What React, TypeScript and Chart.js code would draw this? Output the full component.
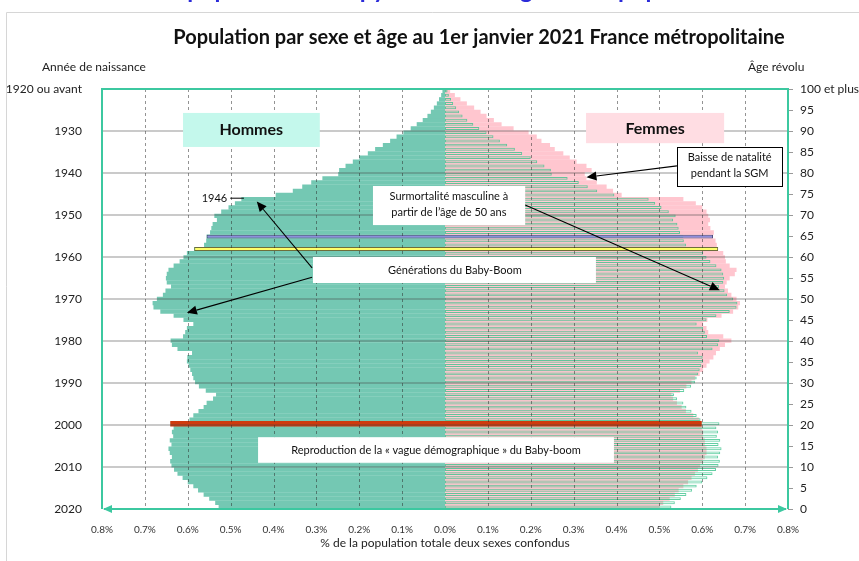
import React, { useEffect, useRef } from 'react';
import { Chart, registerables } from 'chart.js';

Chart.register(...registerables);

const FONT = "Lato, 'Open Sans', sans-serif";

// Part de la population (%) par âge révolu 0..100 (100 = 100 et plus)
const men = [
  0.528, 0.536, 0.550, 0.563, 0.576, 0.587, 0.600, 0.612, 0.624, 0.632,
  0.638, 0.641, 0.637, 0.642, 0.645, 0.638, 0.642, 0.634, 0.637, 0.633,
  0.640, 0.596, 0.587, 0.575, 0.563, 0.556, 0.541, 0.534, 0.558, 0.574,
  0.583, 0.587, 0.590, 0.594, 0.598, 0.602, 0.601, 0.590, 0.624, 0.637,
  0.640, 0.611, 0.606, 0.602, 0.587, 0.610, 0.633, 0.664, 0.680, 0.682,
  0.672, 0.658, 0.652, 0.639, 0.649, 0.651, 0.649, 0.645, 0.633, 0.619,
  0.610, 0.602, 0.585, 0.562, 0.557, 0.556, 0.548, 0.545, 0.542, 0.532,
  0.538, 0.522, 0.505, 0.490, 0.475, 0.395, 0.355, 0.333, 0.312, 0.286,
  0.249, 0.247, 0.232, 0.215, 0.200, 0.180, 0.163, 0.145, 0.128, 0.113,
  0.097, 0.080, 0.066, 0.052, 0.041, 0.033, 0.026, 0.019, 0.014, 0.009,
  0.006,
];

const women = [
  0.501, 0.509, 0.524, 0.536, 0.545, 0.556, 0.567, 0.575, 0.583, 0.590,
  0.595, 0.602, 0.606, 0.610, 0.610, 0.606, 0.606, 0.602, 0.602, 0.599,
  0.598, 0.592, 0.579, 0.562, 0.552, 0.541, 0.532, 0.528, 0.548, 0.563,
  0.575, 0.583, 0.594, 0.602, 0.610, 0.617, 0.626, 0.632, 0.641, 0.653,
  0.668, 0.649, 0.614, 0.610, 0.602, 0.612, 0.645, 0.672, 0.684, 0.688,
  0.680, 0.668, 0.660, 0.653, 0.657, 0.664, 0.676, 0.680, 0.664, 0.655,
  0.653, 0.649, 0.637, 0.634, 0.631, 0.625, 0.627, 0.619, 0.614, 0.618,
  0.614, 0.610, 0.600, 0.585, 0.556, 0.412, 0.392, 0.377, 0.354, 0.330,
  0.326, 0.342, 0.330, 0.307, 0.291, 0.276, 0.256, 0.245, 0.225, 0.214,
  0.195, 0.160, 0.132, 0.114, 0.097, 0.083, 0.068, 0.051, 0.036, 0.023,
  0.012,
];

const ages = men.map((_, i) => i);
const LAST_BIRTH_YEAR = 2020;
const BLUE_AGE = 65;
const YELLOW_AGE = 62;
const RED_AGE = 20;

const TITLE = 'Population par sexe et âge au 1er janvier 2021 France métropolitaine';
const X_TITLE = '% de la population totale deux sexes confondus';
const TEAL = '#3CC8A0';

function arrow(ctx: CanvasRenderingContext2D, x1: number, y1: number, x2: number, y2: number) {
  const ang = Math.atan2(y2 - y1, x2 - x1);
  const L = 10, W = 4.5;
  const bx = x2 - L * Math.cos(ang), by = y2 - L * Math.sin(ang);
  ctx.beginPath();
  ctx.moveTo(x1, y1);
  ctx.lineTo(bx, by);
  ctx.strokeStyle = '#000';
  ctx.lineWidth = 1.1;
  ctx.stroke();
  ctx.beginPath();
  ctx.moveTo(x2, y2);
  ctx.lineTo(bx + W * Math.sin(ang), by - W * Math.cos(ang));
  ctx.lineTo(bx - W * Math.sin(ang), by + W * Math.cos(ang));
  ctx.closePath();
  ctx.fillStyle = '#000';
  ctx.fill();
}

const annotPlugin = {
  id: 'annot',
  afterDatasetsDraw(chart: any) {
    const { ctx, chartArea: a, scales } = chart;
    const px = (v: number) => scales.x.getPixelForValue(v);
    const py = (age: number) => scales.yAge.getPixelForValue(age);
    ctx.save();

    // grid lines, drawn over the bars so that they show through them
    ctx.save();
    ctx.beginPath();
    ctx.rect(a.left, a.top, a.right - a.left, a.bottom - a.top);
    ctx.clip();
    ctx.setLineDash([3, 3]);
    ctx.strokeStyle = 'rgba(40,40,40,0.5)';
    ctx.lineWidth = 1;
    ctx.beginPath();
    for (const t of scales.x.ticks) {
      const v = Math.abs(t.value);
      if (v < 1e-6 || Math.abs(v - 0.8) < 1e-6) continue;
      const x = Math.round(px(t.value)) + 0.5;
      ctx.moveTo(x, a.top);
      ctx.lineTo(x, a.bottom);
    }
    ctx.stroke();
    ctx.setLineDash([]);
    ctx.strokeStyle = 'rgba(70,70,70,0.38)';
    ctx.lineWidth = 1.6;
    ctx.beginPath();
    for (const t of scales.yYear.ticks) {
      if (t.value <= 0 || t.value >= 100) continue;
      const y = scales.yYear.getPixelForValue(t.value);
      ctx.moveTo(a.left, y);
      ctx.lineTo(a.right, y);
    }
    ctx.stroke();
    ctx.restore();

    // plot frame
    ctx.strokeStyle = TEAL;
    ctx.lineWidth = 2;
    ctx.beginPath();
    ctx.moveTo(a.left, a.bottom);
    ctx.lineTo(a.left, a.top);
    ctx.lineTo(a.right, a.top);
    ctx.lineTo(a.right, a.bottom);
    ctx.stroke();
    // bottom axis with arrows
    ctx.beginPath();
    ctx.moveTo(a.left + 2, a.bottom);
    ctx.lineTo(a.right - 2, a.bottom);
    ctx.stroke();
    ctx.fillStyle = TEAL;
    ctx.beginPath();
    ctx.moveTo(a.left + 1, a.bottom);
    ctx.lineTo(a.left + 10, a.bottom - 4);
    ctx.lineTo(a.left + 10, a.bottom + 4);
    ctx.closePath();
    ctx.fill();
    ctx.beginPath();
    ctx.moveTo(a.right - 1, a.bottom);
    ctx.lineTo(a.right - 10, a.bottom - 4);
    ctx.lineTo(a.right - 10, a.bottom + 4);
    ctx.closePath();
    ctx.fill();

    const box = (v1: number, v2: number, a1: number, a2: number, fill: string, stroke?: string) => {
      const x1 = px(v1), x2 = px(v2), y1 = py(a1), y2 = py(a2);
      ctx.fillStyle = fill;
      ctx.fillRect(x1, y1, x2 - x1, y2 - y1);
      if (stroke) {
        ctx.strokeStyle = stroke;
        ctx.lineWidth = 1;
        ctx.strokeRect(Math.round(x1) + 0.5, Math.round(y1) + 0.5, Math.round(x2 - x1), Math.round(y2 - y1));
      }
    };
    const text = (t: string, v: number, age: number, font: string, align: CanvasTextAlign = 'center') => {
      ctx.font = font;
      ctx.fillStyle = '#111';
      ctx.textAlign = align;
      ctx.textBaseline = 'middle';
      ctx.fillText(t, px(v), py(age));
    };
    const small = `11px ${FONT}`;

    // Hommes / Femmes
    box(-0.611, -0.292, 94.3, 86.2, '#C4F8EC');
    text('Hommes', -0.452, 90.2, `bold 16px ${FONT}`);
    box(0.329, 0.651, 94.3, 87.1, '#FFDDE3');
    text('Femmes', 0.49, 90.6, `bold 16px ${FONT}`);

    // Baisse de natalité
    box(0.541, 0.786, 86.2, 76.9, '#FFFFFF', '#000');
    text('Baisse de natalité', 0.664, 83.8, small);
    text('pendant la SGM', 0.664, 80.0, small);
    arrow(ctx, px(0.541), py(81.7), px(0.330), py(79.0));

    // Surmortalité masculine
    box(-0.168, 0.187, 76.9, 67.6, '#FFFFFF');
    text('Surmortalité masculine à', 0.009, 74.3, small);
    text('partir de l’âge de 50 ans', 0.009, 70.5, small);
    arrow(ctx, px(0.187), py(72.4), px(0.641), py(52.1));

    // Générations du Baby-Boom
    box(-0.308, 0.352, 60.0, 53.8, '#FFFFFF');
    text('Générations du Baby-Boom', 0.023, 56.9, small);
    arrow(ctx, px(-0.310), py(57.4), px(-0.439), py(73.2));
    arrow(ctx, px(-0.310), py(55.2), px(-0.602), py(46.7));

    // Reproduction
    box(-0.436, 0.394, 17.1, 11.0, '#FFFFFF');
    text('Reproduction de la « vague démographique » du Baby-boom', -0.021, 14.0, small);

    // 1946 label
    text('1946', -0.508, 74.0, small, 'right');
    ctx.strokeStyle = '#000';
    ctx.lineWidth = 1;
    ctx.beginPath();
    ctx.moveTo(px(-0.501), py(74.0));
    ctx.lineTo(px(-0.469), py(74.0));
    ctx.stroke();
    ctx.restore();
  },
  afterDraw(chart: any) {
    const { ctx } = chart;
    ctx.save();
    // outer frame
    ctx.strokeStyle = '#D6D6D6';
    ctx.lineWidth = 1;
    ctx.beginPath();
    ctx.moveTo(6.5, 561);
    ctx.lineTo(6.5, 12.5);
    ctx.lineTo(859, 12.5);
    ctx.stroke();
    // cut-off page heading
    ctx.fillStyle = '#2B2BD9';
    ctx.font = `bold 24px ${FONT}`;
    ctx.textAlign = 'center';
    ctx.textBaseline = 'alphabetic';
    ctx.fillText('La population et la pyramide des âges de la population', 445, -2);
    // chart title
    ctx.fillStyle = '#111';
    ctx.font = `bold 20px ${FONT}`;
    ctx.textBaseline = 'middle';
    ctx.fillText(TITLE, 479, 38);
    // axis headers
    ctx.font = `12px ${FONT}`;
    ctx.fillStyle = '#222';
    ctx.textAlign = 'left';
    ctx.fillText('Année de naissance', 42, 67);
    ctx.fillText('Âge révolu', 748, 67);
    ctx.restore();
  },
};

export default function App() {
  const ref = useRef<HTMLCanvasElement | null>(null);
  useEffect(() => {
    document.body.style.margin = '0';
    const canvas = ref.current;
    if (!canvas) return;
    const only = (age: number) => ages.map((i) => (i === age ? [-men[i], women[i]] : null));
    const chart = new Chart(canvas, {
      type: 'bar',
      data: {
        labels: ages.map(String),
        datasets: [
          {
            label: 'rouge',
            data: only(RED_AGE) as any,
            backgroundColor: '#CF3A0E',
            borderWidth: 0,
            barThickness: 5,
            order: 0,
          },
          {
            label: 'jaune',
            data: only(YELLOW_AGE) as any,
            backgroundColor: '#FFFF6A',
            borderColor: '#6E6E3A',
            borderWidth: 1,
            borderSkipped: false,
            barPercentage: 0.95,
            order: 0,
          },
          {
            label: 'bleu',
            data: only(BLUE_AGE) as any,
            backgroundColor: '#8E8EDC',
            borderColor: '#4A4A7A',
            borderWidth: 1,
            borderSkipped: false,
            barPercentage: 0.95,
            order: 0,
          },
          {
            label: 'Hommes (contour)',
            data: men,
            backgroundColor: 'rgba(0,0,0,0)',
            borderColor: 'rgba(60,195,140,0.8)',
            borderWidth: 1,
            borderSkipped: false,
            barPercentage: 0.7,
            order: 1,
          },
          {
            label: 'Femmes',
            data: women,
            backgroundColor: '#FFC6CF',
            borderWidth: 0,
            barPercentage: 1.06,
            order: 2,
          },
          {
            label: 'Hommes',
            data: men.map((v) => -v),
            backgroundColor: '#74C8B3',
            borderWidth: 0,
            barPercentage: 1.06,
            order: 2,
          },
        ],
      },
      options: {
        indexAxis: 'y',
        responsive: false,
        animation: false,
        layout: { padding: { top: 89, left: 0, right: 0, bottom: 0 } },
        datasets: { bar: { grouped: false, categoryPercentage: 1, barPercentage: 1 } } as any,
        plugins: { legend: { display: false }, tooltip: { enabled: false }, title: { display: false } },
        scales: {
          x: {
            type: 'linear',
            position: 'bottom',
            min: -0.8,
            max: 0.8,
            ticks: {
              stepSize: 0.1,
              callback: (v: any) => Math.abs(Number(v)).toFixed(1) + '%',
              font: { size: 10, family: FONT },
              color: '#333',
              padding: 7,
            },
            grid: { display: false },
            border: { display: false },
            title: {
              display: true,
              text: X_TITLE,
              font: { size: 12, family: FONT },
              color: '#222',
              padding: { top: 0, bottom: 11 },
            },
            afterFit: (s: any) => {
              s.height = 52;
            },
          } as any,
          y: {
            type: 'category',
            reverse: true,
            display: false,
            offset: true,
          },
          yYear: {
            type: 'linear',
            position: 'left',
            min: 0,
            max: 100,
            offset: false,
            ticks: {
              stepSize: 10,
              callback: (v: any) => (Number(v) === 100 ? '1920 ou avant' : String(LAST_BIRTH_YEAR - Number(v))),
              font: { size: 12, family: FONT },
              color: '#222',
              padding: 12,
            },
            grid: { display: false, offset: false },
            border: { display: false },
            afterFit: (s: any) => {
              s.width = 102;
            },
          } as any,
          yAge: {
            type: 'linear',
            position: 'right',
            min: 0,
            max: 100,
            offset: false,
            ticks: {
              stepSize: 5,
              callback: (v: any) => (Number(v) === 100 ? '100 et plus' : String(v)),
              font: { size: 12, family: FONT },
              color: '#222',
              padding: 7,
            },
            grid: { drawOnChartArea: false, drawTicks: true, tickLength: 5, color: '#999', lineWidth: 1, offset: false },
            border: { display: false },
            afterFit: (s: any) => {
              s.width = 71;
            },
          } as any,
        },
      },
      plugins: [annotPlugin],
    });
    return () => chart.destroy();
  }, []);
  return (
    <div style={{ position: 'fixed', left: 0, top: 0, width: 859, height: 561, background: '#fff' }}>
      <canvas ref={ref} width={859} height={561} />
    </div>
  );
}
